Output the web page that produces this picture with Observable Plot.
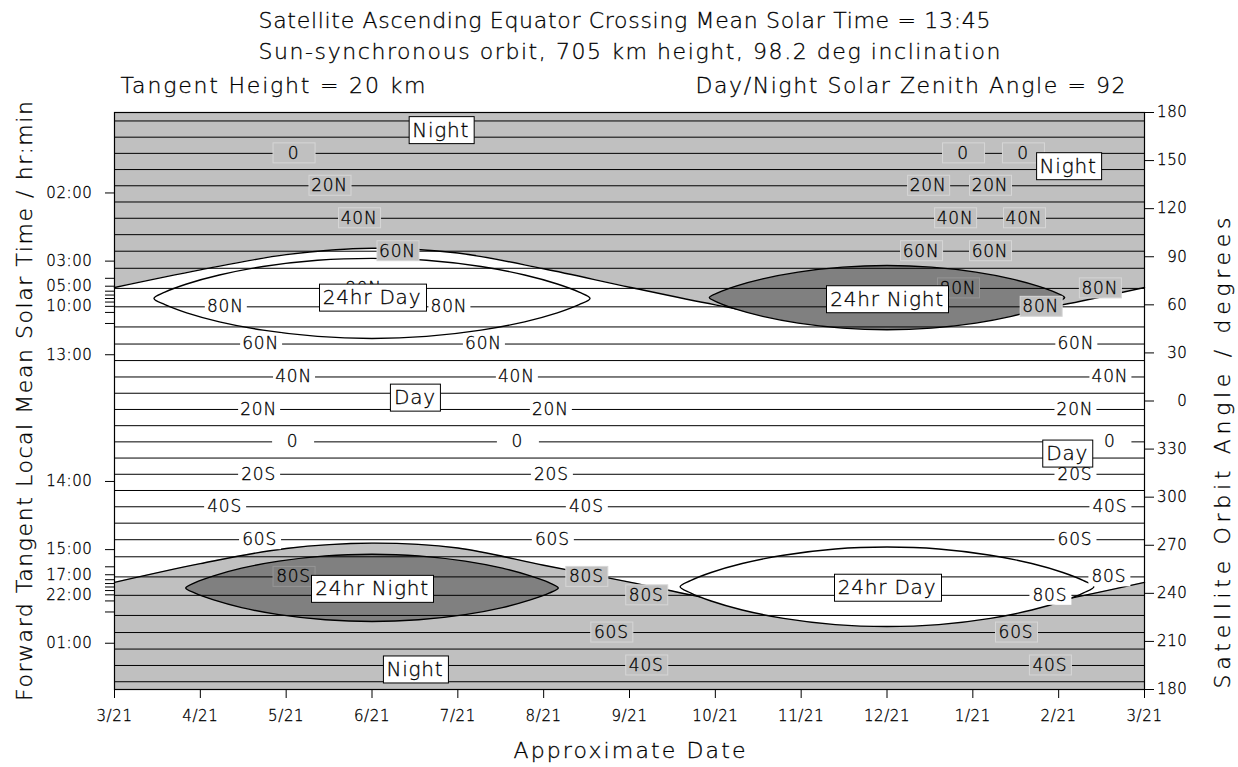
<!DOCTYPE html>
<html><head><meta charset="utf-8">
<script src="https://cdn.jsdelivr.net/npm/d3@7"></script>
<script src="https://cdn.jsdelivr.net/npm/@observablehq/plot@0.6"></script>
<style>
html,body{margin:0;padding:0;background:#fff;}
#chart svg text{font-family:"DejaVu Sans",sans-serif;font-weight:200;stroke:black;stroke-width:0.3px;}
</style></head><body><div id="chart"></div>
<script>
// x: months after 3/21 ; y: satellite orbit angle, unwrapped (180 .. 360 .. 540 = 180)
const months = [0,1,2,3,4,5,6,7,8,9,10,11,12];
const monthLabels = ["3/21","4/21","5/21","6/21","7/21","8/21","9/21","10/21","11/21","12/21","1/21","2/21","3/21"];
const upperBoundary = [430.8,441.8,451.3,455.3,452.3,442.5,431,420,410.5,407,410,419.5,430.8];
const lowerBoundary = [246.8,258.5,268,271.3,268.3,257.5,247,236,227,223.5,226.5,235.5,246.8];

const latitudeLines = [534.72,524.6,514.5,504.4,494.28,484.16,474.01,463.78,453.46,442.8,430.25,418.75,
  406.2,395.54,385.22,374.99,364.84,354.72,344.6,334.5,324.4,314.28,304.16,294.01,283.78,273.46,262.8,
  250.25,238.75,226.2,215.54,205.22,194.99,184.84];

const orbitTicks = [180,210,240,270,300,330,360,390,420,450,480,510,540];
const orbitTickLabels = ["180","210","240","270","300","330","0","30","60","90","120","150","180"];
const timeTicks = [489.8,447.28,431.63,419.06,388.86,309.8,267.28,251.6,239.06,208.86];
const timeTickLabels = ["02:00","03:00","05:00","10:00","13:00","14:00","15:00","17:00","22:00","01:00"];
const timeMinorTicks = [436.55,428.52,426.1,423.96,421.73,415.26,408.37,256.55,248.5,246.1,243.96,241.73,235.26,228.37];

// polar caps outlines [month, angle]
const dayCapNorth = [[5.54,424],[5.413,427.9],[5.159,433.0],[4.778,438.6],[4.27,443.9],[3.635,447.8],[3.0,449],
  [2.365,447.8],[1.73,443.9],[1.222,438.6],[0.841,433.0],[0.587,427.9],[0.46,424],[0.587,420.1],[0.841,415.0],
  [1.222,409.4],[1.73,404.2],[2.365,400.3],[3.0,399],[3.635,400.3],[4.27,404.2],[4.778,409.4],[5.159,415.0],[5.413,420.1]];
const nightCapNorth = [[11.07,424.5],[10.967,427.6],[10.76,431.7],[10.449,436.2],[10.035,440.4],[9.518,443.5],[9.0,444.5],
  [8.483,443.5],[7.965,440.4],[7.551,436.2],[7.24,431.7],[7.034,427.6],[6.93,424.5],[7.034,421.4],[7.24,417.3],
  [7.551,412.8],[7.965,408.6],[8.483,405.5],[9.0,404.5],[9.518,405.5],[10.035,408.6],[10.449,412.8],[10.76,417.3],[10.967,421.4]];
const nightCapSouth = [[5.17,243.4],[5.062,246.7],[4.845,250.9],[4.519,255.7],[4.085,260.1],[3.543,263.4],[3.0,264.4],
  [2.457,263.4],[1.915,260.1],[1.481,255.7],[1.155,250.9],[0.939,246.7],[0.83,243.4],[0.939,240.1],[1.155,235.9],
  [1.481,231.1],[1.915,226.7],[2.457,223.5],[3.0,222.4],[3.543,223.5],[4.085,226.7],[4.519,231.1],[4.845,235.9],[5.062,240.1]];
const dayCapSouth = [[11.41,244.1],[11.29,247.9],[11.049,253.0],[10.687,258.6],[10.205,263.8],[9.603,267.7],[9.0,268.9],
  [8.398,267.7],[7.795,263.8],[7.313,258.6],[6.951,253.0],[6.71,247.9],[6.59,244.1],[6.71,240.3],[6.951,235.2],
  [7.313,229.6],[7.795,224.4],[8.398,220.5],[9.0,219.3],[9.603,220.5],[10.205,224.4],[10.687,229.6],[11.049,235.2],[11.29,240.3]];

// tangent latitude labels [text, month, angle]
const nightLatLabels = [["0",2.086,514.5],["20N",2.505,494.28],["40N",2.849,474.01],["60N",3.297,453.46],
  ["0",9.886,514.5],["0",10.584,514.5],["20N",9.479,494.28],["20N",10.2,494.28],["40N",9.793,474.01],["40N",10.596,474.01],
  ["60N",9.397,453.46],["60N",10.2,453.46],["80N",11.48,430.25],["80N",10.79,418.75],
  ["80S",5.497,250.25],["80S",6.195,238.75],["60S",5.788,215.54],["40S",6.195,194.99],["60S",10.503,215.54],["40S",10.898,194.99]];
const darkLatLabels = [["80N",9.827,430.25],["80S",2.086,250.25]];
const dayLatLabels = [["80N",2.9,430.25],["80N",1.291,418.75],["80N",3.896,418.75],["60N",1.702,395.54],["60N",4.298,395.54],
  ["40N",2.086,374.99],["40N",4.682,374.99],["20N",1.679,354.72],["20N",5.078,354.72],["0",2.075,334.5],["0",4.694,334.5],
  ["20S",1.679,314.28],["20S",5.09,314.28],["40S",1.283,294.01],["40S",5.497,294.01],["60S",1.69,273.46],["60S",5.101,273.46],
  ["60N",11.2,395.54],["40N",11.597,374.99],["20N",11.19,354.72],["0",11.597,334.5],["20S",11.19,314.28],["40S",11.597,294.01],
  ["60S",11.19,273.46],["80S",11.585,250.25],["80S",10.898,238.75]];
const regionLabels = [["Night",3.8,529],["Night",11.11,506.5],["24hr Day",3.0,424.5],["24hr Night",9.0,423.5],
  ["Day",3.5,362.1],["Day",11.1,327.2],["24hr Night",3.0,242.8],["24hr Day",9.0,243.5],["Night",3.5,192.5]];

const titles = ["Satellite Ascending Equator Crossing Mean Solar Time = 13:45",
  "Sun-synchronous orbit, 705 km height, 98.2 deg inclination"];
const subLeft = "Tangent Height = 20 km";
const subRight = "Day/Night Solar Zenith Angle = 92";
const xTitle = "Approximate Date";
const yLeftTitle = "Forward Tangent Local Mean Solar Time / hr:min";
const yRightTitle = "Satellite Orbit Angle / degrees";

const days = months.map((m, i) => ({m, lo: lowerBoundary[i], hi: upperBoundary[i]}));
const rows = a => a.map(([text, m, v]) => ({text, m, v}));
const cap = (data, fill) => Plot.line(data, {x: d => d[0], y: d => d[1], curve: "catmull-rom-closed", fill, stroke: "black", strokeWidth: 1.4});
const lat = (data, name) => Plot.text(rows(data), {x: "m", y: "v", text: "text", fontSize: 17, lineAnchor: "middle", ariaDescription: name, fill: "black"});
const ttl = (s, name, o) => Plot.text([s], {lineAnchor: "middle", fontSize: 22, ariaDescription: name, fill: "black", ...o});

const plot = Plot.plot({
  width: 1238, height: 767,
  marginLeft: 114, marginRight: 94, marginTop: 112, marginBottom: 78,
  x: {domain: [0, 12]},
  y: {domain: [180, 540]},
  style: {fontFamily: '"DejaVu Sans", sans-serif', fontSize: "15px", color: "black", background: "white", overflow: "visible"},
  marks: [
    Plot.frame({fill: "#c0c0c0", stroke: null}),
    Plot.areaY(days, {x: "m", y1: "lo", y2: "hi", curve: "catmull-rom", fill: "white"}),
    Plot.line(days, {x: "m", y: "hi", curve: "catmull-rom", stroke: "black", strokeWidth: 1.4}),
    Plot.line(days, {x: "m", y: "lo", curve: "catmull-rom", stroke: "black", strokeWidth: 1.4}),
    cap(dayCapNorth, "white"),
    cap(nightCapNorth, "#808080"),
    cap(nightCapSouth, "#808080"),
    cap(dayCapSouth, "white"),
    Plot.ruleY(latitudeLines, {stroke: "black", strokeWidth: 1}),
    lat(nightLatLabels, "lbl-night"),
    lat(darkLatLabels, "lbl-dark"),
    lat(dayLatLabels, "lbl-day"),
    Plot.text(rows(regionLabels), {x: "m", y: "v", text: "text", fontSize: 20, lineAnchor: "middle", ariaDescription: "lbl-region", fill: "black"}),
    Plot.frame({stroke: "black", strokeWidth: 1.2}),
    Plot.axisX(months, {anchor: "bottom", tickFormat: d => monthLabels[months.indexOf(d)], tickSize: 9, tickPadding: 12, fontSize: 15, label: null}),
    Plot.axisY(timeTicks, {anchor: "left", tickFormat: d => timeTickLabels[timeTicks.indexOf(d)], tickSize: 9, tickPadding: 13, fontSize: 15, label: null}),
    Plot.axisY(timeMinorTicks, {anchor: "left", tickFormat: () => "", tickSize: 9, label: null}),
    Plot.axisY(orbitTicks, {anchor: "right", tickFormat: d => orbitTickLabels[orbitTicks.indexOf(d)], tickSize: 9, tickPadding: 34, textAnchor: "end", fontSize: 15, label: null}),
    ttl(titles[0], "t-732", {frameAnchor: "top", dx: -5, dy: -91.5}),
    ttl(titles[1], "t-742", {frameAnchor: "top", dx: 0, dy: -61}),
    ttl(subLeft, "t-305", {frameAnchor: "top-left", textAnchor: "start", dx: 6, dy: -26.5}),
    ttl(subRight, "t-430", {frameAnchor: "top-right", textAnchor: "end", dx: -19, dy: -26.5}),
    ttl(xTitle, "t-232", {frameAnchor: "bottom", dy: 61}),
    ttl(yLeftTitle, "t-600", {frameAnchor: "left", textAnchor: "middle", dx: -90, dy: 0, rotate: -90}),
    ttl(yRightTitle, "t-471", {frameAnchor: "right", textAnchor: "middle", dx: 78, dy: 52, rotate: -90})
  ]
});
document.getElementById("chart").appendChild(plot);

// fit title widths to the reference lengths
plot.querySelectorAll("g[aria-description^='t-'] text").forEach(t => {
  t.setAttribute("textLength", t.parentNode.getAttribute("aria-description").slice(2));
  t.setAttribute("lengthAdjust", "spacing");
});
// letter spacing for tick labels
plot.querySelectorAll("g[aria-label$='tick label'] text").forEach(t => t.setAttribute("letter-spacing", "0.6"));

const NS = "http://www.w3.org/2000/svg";
function boxes(name, {w, h, padX = 0, fill, stroke = "none"}) {
  plot.querySelectorAll(`g[aria-description="${name}"] text`).forEach(t => {
    t.setAttribute("letter-spacing", "0.8");
    const b = t.getBBox();
    const bw = Math.round(w ?? b.width + 2 * padX);
    const r = document.createElementNS(NS, "rect");
    r.setAttribute("x", Math.round(b.x + b.width / 2 - bw / 2) + 0.5);
    r.setAttribute("y", Math.round(b.y + b.height / 2 - h / 2) + 0.5);
    r.setAttribute("width", bw);
    r.setAttribute("height", h);
    r.setAttribute("fill", fill);
    r.setAttribute("stroke", stroke);
    r.setAttribute("stroke-width", 1);
    const tr = t.getAttribute("transform");
    if (tr) r.setAttribute("transform", tr);
    t.parentNode.insertBefore(r, t);
  });
}
boxes("lbl-night", {w: 42, h: 20, fill: "#c0c0c0", stroke: "#d6d6d6"});
boxes("lbl-dark", {w: 42, h: 20, fill: "#808080", stroke: "#959595"});
boxes("lbl-day", {w: 42, h: 20, fill: "white"});
boxes("lbl-region", {h: 27, padX: 4, fill: "white", stroke: "black"});
</script></body></html>
